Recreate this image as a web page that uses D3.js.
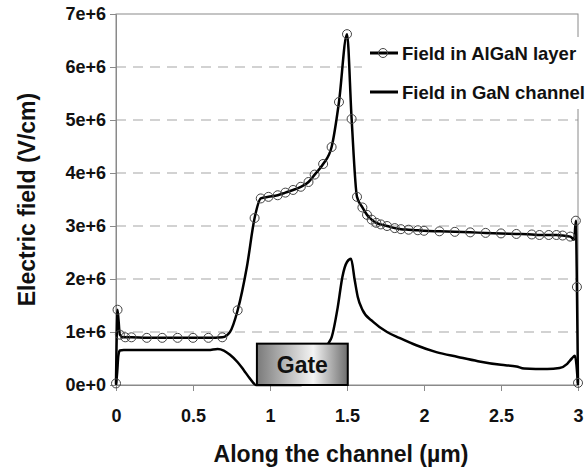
<!DOCTYPE html>
<html>
<head>
<meta charset="utf-8">
<script src="https://cdn.jsdelivr.net/npm/d3@7"></script>
<style>
  body { margin: 0; background: #fff; }
  text { font-family: "Liberation Sans", Arial, sans-serif; font-weight: bold; fill: #111; }
</style>
</head>
<body>
<div id="chart"></div>
<script>
var
  width = 585,
  height = 473;

// field in the AlGaN layer (line shape), x in um, y in 1e6 V/cm
var alganX = [0, 0.01, 0.025, 0.045, 0.1, 0.2, 0.3, 0.4, 0.5, 0.6, 0.69, 0.74, 0.79, 0.85, 0.90, 0.94, 0.99,
  1.05, 1.10, 1.15, 1.20, 1.25, 1.29, 1.345, 1.40, 1.448, 1.50, 1.53, 1.565, 1.60, 1.63, 1.66, 1.69, 1.72,
  1.76, 1.81, 1.85, 1.90, 1.96, 2.0, 2.1, 2.2, 2.3, 2.4, 2.5, 2.6, 2.7, 2.75, 2.81, 2.86, 2.90, 2.95, 2.975,
  2.986, 2.993, 3.0];
var alganY = [0.03, 1.42, 0.95, 0.9, 0.9, 0.89, 0.89, 0.89, 0.89, 0.89, 0.9, 1.0, 1.41, 2.23, 3.15, 3.52, 3.55,
  3.58, 3.63, 3.68, 3.74, 3.83, 3.97, 4.17, 4.49, 5.34, 6.62, 5.02, 3.55, 3.35, 3.21, 3.12, 3.06, 3.03,
  3.0, 2.96, 2.94, 2.93, 2.92, 2.91, 2.9, 2.89, 2.88, 2.87, 2.86, 2.85, 2.84, 2.83, 2.83, 2.83, 2.82, 2.8, 2.74,
  3.1, 1.85, 0.04];

// marker positions on the AlGaN curve
var markX = [0, 0.01, 0.025, 0.06, 0.1, 0.2, 0.3, 0.4, 0.5, 0.6, 0.69, 0.79, 0.90, 0.94, 0.99,
  1.05, 1.10, 1.15, 1.20, 1.25, 1.29, 1.345, 1.40, 1.448, 1.50, 1.53, 1.565, 1.60, 1.63, 1.66, 1.69, 1.72,
  1.76, 1.81, 1.85, 1.90, 1.96, 2.0, 2.1, 2.2, 2.3, 2.4, 2.5, 2.6, 2.7, 2.75, 2.81, 2.86, 2.90, 2.95,
  2.986, 2.993, 3.0];
var markY = [0.03, 1.42, 0.95, 0.9, 0.9, 0.89, 0.89, 0.89, 0.89, 0.89, 0.9, 1.41, 3.15, 3.52, 3.55,
  3.58, 3.63, 3.68, 3.74, 3.83, 3.97, 4.17, 4.49, 5.34, 6.62, 5.02, 3.55, 3.35, 3.21, 3.12, 3.06, 3.03,
  3.0, 2.96, 2.94, 2.93, 2.92, 2.91, 2.9, 2.89, 2.88, 2.87, 2.86, 2.85, 2.84, 2.83, 2.83, 2.83, 2.82, 2.8,
  3.1, 1.85, 0.04];

// field in the GaN channel
var ganX = [0, 0.008, 0.015, 0.025, 0.05, 0.3, 0.6, 0.66, 0.70, 0.74, 0.79, 0.83, 0.87, 0.91, 1.0, 1.2,
  1.3, 1.35, 1.38, 1.40, 1.44, 1.47, 1.50, 1.526, 1.55, 1.57, 1.60, 1.67, 1.76, 1.84, 1.95, 2.08, 2.22,
  2.35, 2.5, 2.6, 2.65, 2.8, 2.88, 2.93, 2.96, 2.98, 3.0];
var ganY = [0, 0.25, 0.55, 0.65, 0.66, 0.66, 0.66, 0.68, 0.65, 0.57, 0.43, 0.28, 0.12, 0.0, 0, 0,
  0.3, 0.6, 0.79, 0.9, 1.47, 2.04, 2.32, 2.38, 1.98, 1.66, 1.42, 1.19, 1.0, 0.89, 0.75, 0.62, 0.53,
  0.45, 0.38, 0.35, 0.31, 0.3, 0.32, 0.4, 0.5, 0.55, 0.0];

var xTicks = [0, 0.5, 1, 1.5, 2, 2.5, 3];
var xTickLabels = ["0", "0.5", "1", "1.5", "2", "2.5", "3"];
var yTicks = [0, 1, 2, 3, 4, 5, 6, 7];
var yTickLabels = ["0e+0", "1e+6", "2e+6", "3e+6", "4e+6", "5e+6", "6e+6", "7e+6"];
var seriesNames = ["Field in AlGaN layer", "Field in GaN channel"];
var gateLabel = "Gate";
var gateRange = [0.915, 1.505];
var gateTop = 0.78;

var margin = {top: 14, right: 7, bottom: 88, left: 116};

var svg = d3.select("#chart")
  .append("svg")
  .attr("width", width)
  .attr("height", height);

var x = d3.scaleLinear().domain([0, 3]).range([margin.left, width - margin.right]);
var y = d3.scaleLinear().domain([0, 7]).range([height - margin.bottom, margin.top]);

var defs = svg.append("defs");
var grad = defs.append("linearGradient").attr("id", "gateGrad");
grad.append("stop").attr("offset", "0%").attr("stop-color", "#7a7a7a");
grad.append("stop").attr("offset", "62%").attr("stop-color", "#f4f4f4");
grad.append("stop").attr("offset", "100%").attr("stop-color", "#6e6e6e");

// grid lines
svg.selectAll(".grid")
  .data(yTicks.slice(1, -1))
  .enter().append("line")
  .attr("class", "grid")
  .attr("x1", x(0)).attr("x2", x(3))
  .attr("y1", function(d) { return y(d); })
  .attr("y2", function(d) { return y(d); })
  .attr("stroke", "#c4c4c4")
  .attr("stroke-width", 1.5)
  .attr("stroke-dasharray", "10,7");

// plot frame
svg.append("rect")
  .attr("x", x(0)).attr("y", y(7))
  .attr("width", x(3) - x(0)).attr("height", y(0) - y(7))
  .attr("fill", "none")
  .attr("stroke", "#8a8a8a")
  .attr("stroke-width", 1);

// axes
var xAxis = d3.axisBottom(x)
  .tickValues(xTicks)
  .tickFormat(function(d, i) { return xTickLabels[i]; })
  .tickSize(6)
  .tickPadding(18);
var yAxis = d3.axisLeft(y)
  .tickValues(yTicks)
  .tickFormat(function(d, i) { return yTickLabels[i]; })
  .tickSize(6)
  .tickPadding(4);

var gx = svg.append("g")
  .attr("transform", "translate(0," + y(0) + ")")
  .call(xAxis);
var gy = svg.append("g")
  .attr("transform", "translate(" + x(0) + ",0)")
  .call(yAxis);

[gx, gy].forEach(function(g) {
  g.select(".domain").attr("stroke", "#8a8a8a");
  g.selectAll(".tick line").attr("stroke", "#8a8a8a");
  g.selectAll(".tick text")
    .attr("font-family", "Liberation Sans, Arial, sans-serif")
    .attr("font-weight", "bold")
    .attr("font-size", 18)
    .attr("fill", "#111");
});

// lines
var line = d3.line()
  .x(function(d) { return x(d[0]); })
  .y(function(d) { return y(d[1]); })
  .curve(d3.curveMonotoneX);

svg.append("path")
  .datum(ganX.map(function(v, i) { return [v, ganY[i]]; }))
  .attr("d", line)
  .attr("fill", "none")
  .attr("stroke", "#000")
  .attr("stroke-width", 2.5);

svg.append("path")
  .datum(alganX.map(function(v, i) { return [v, alganY[i]]; }))
  .attr("d", line)
  .attr("fill", "none")
  .attr("stroke", "#000")
  .attr("stroke-width", 2.5);

svg.selectAll(".mark")
  .data(markX.map(function(v, i) { return [v, markY[i]]; }))
  .enter().append("circle")
  .attr("class", "mark")
  .attr("cx", function(d) { return x(d[0]); })
  .attr("cy", function(d) { return y(d[1]); })
  .attr("r", 4.5)
  .attr("fill", "none")
  .attr("stroke", "#444")
  .attr("stroke-width", 1);

// gate
svg.append("rect")
  .attr("x", x(gateRange[0]))
  .attr("y", y(gateTop))
  .attr("width", x(gateRange[1]) - x(gateRange[0]))
  .attr("height", y(0) - y(gateTop))
  .attr("fill", "url(#gateGrad)")
  .attr("stroke", "#000")
  .attr("stroke-width", 2);

svg.append("text")
  .attr("x", (x(gateRange[0]) + x(gateRange[1])) / 2)
  .attr("y", (y(gateTop) + y(0)) / 2)
  .attr("dy", "0.36em")
  .attr("text-anchor", "middle")
  .attr("font-size", 23)
  .text(gateLabel);

// legend
var legend = svg.append("g");
legend.append("rect")
  .attr("x", 362).attr("y", 37)
  .attr("width", 230).attr("height", 72)
  .attr("fill", "#fff");

seriesNames.forEach(function(name, i) {
  var ly = 53 + i * 39;
  legend.append("line")
    .attr("x1", 370).attr("x2", 398)
    .attr("y1", ly).attr("y2", ly)
    .attr("stroke", "#000")
    .attr("stroke-width", 3);
  if (i === 0) {
    legend.append("circle")
      .attr("cx", 383).attr("cy", ly).attr("r", 4.5)
      .attr("fill", "none").attr("stroke", "#444").attr("stroke-width", 1);
  }
  legend.append("text")
    .attr("x", 402).attr("y", ly)
    .attr("dy", "0.36em")
    .attr("font-size", 18.5)
    .text(name);
});

// axis titles
svg.append("text")
  .attr("x", (x(0) + x(3)) / 2 - 6)
  .attr("y", 462)
  .attr("text-anchor", "middle")
  .attr("font-size", 23)
  .text("Along the channel (\u00b5m)");

svg.append("text")
  .attr("transform", "translate(35," + ((y(0) + y(7)) / 2) + ") rotate(-90)")
  .attr("text-anchor", "middle")
  .attr("font-size", 23)
  .text("Electric field (V/cm)");
</script>
</body>
</html>
